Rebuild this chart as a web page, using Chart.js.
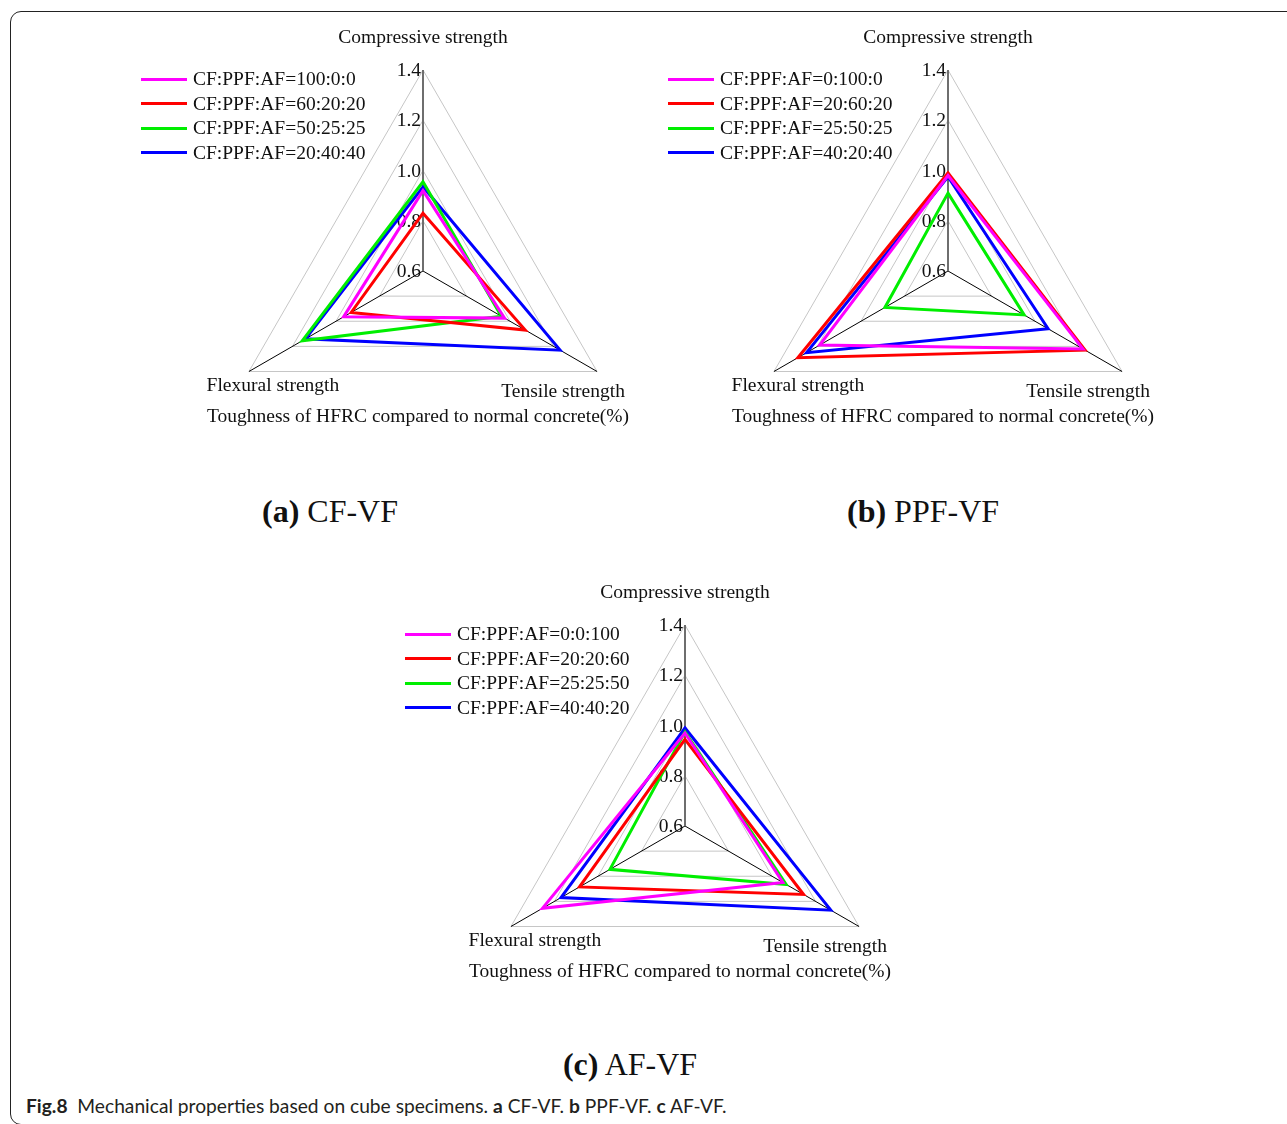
<!DOCTYPE html>
<html>
<head>
<meta charset="utf-8">
<script src="https://cdn.jsdelivr.net/npm/chart.js@4.4.0/dist/chart.umd.min.js"></script>
<style>
  body { margin: 0; width: 1287px; height: 1124px; background: #fff; position: relative; overflow: hidden;
         font-family: "Liberation Serif", serif; color: #111; }
  .frame { position: absolute; left: 10px; top: 11px; width: 1300px; height: 1112px;
           border: 1.5px solid #222; border-radius: 11px; }
  canvas { position: absolute; }
  .legend { position: absolute; font-size: 19.5px; line-height: 24.5px; }
  .legend div { display: flex; align-items: center; white-space: nowrap; height: 24.5px; }
  .legend .ln { display: inline-block; width: 46px; height: 3px; margin-right: 6px; }
  .cap { position: absolute; font-size: 32px; line-height: 32px; white-space: nowrap; transform: translateX(-50%); }
  .fig { position: absolute; left: 26px; top: 1096px; font-family: Lato, sans-serif; font-size: 19.2px;
         line-height: 20px; color: #231f20; white-space: nowrap; }
</style>
</head>
<body>
<div class="frame"></div>

<canvas id="chartA" width="520" height="480" style="left:163px; top:11px;"></canvas>
<canvas id="chartB" width="520" height="480" style="left:688px; top:11px;"></canvas>
<canvas id="chartC" width="520" height="480" style="left:425px; top:566px;"></canvas>

<div class="legend" id="legendA" style="left:141px; top:67px;"></div>
<div class="legend" id="legendB" style="left:668px; top:67px;"></div>
<div class="legend" id="legendC" style="left:405px; top:622px;"></div>

<div class="cap" style="left:330px; top:495px;"><b>(a)</b> CF-VF</div>
<div class="cap" style="left:923px; top:495px;"><b>(b)</b> PPF-VF</div>
<div class="cap" style="left:630px; top:1048px;"><b>(c)</b> AF-VF</div>

<div class="fig"><b>Fig.8</b>&nbsp; Mechanical properties based on cube specimens. <b>a</b> CF-VF. <b>b</b> PPF-VF. <b>c</b> AF-VF.</div>

<script>
// 坐标轴与数据
const axisLabels = ['Compressive strength', 'Tensile strength', 'Flexural strength'];
const axisTitle = 'Toughness of HFRC compared to normal concrete(%)';
const tickValues = [0.6, 0.8, 1.0, 1.2, 1.4];
const seriesColors = ['#ff00ff', '#ff0000', '#00ee00', '#0000ff'];

// (a) CF-VF
const namesA = ['CF:PPF:AF=100:0:0', 'CF:PPF:AF=60:20:20', 'CF:PPF:AF=50:25:25', 'CF:PPF:AF=20:40:40'];
const valuesA = [
    [0.92, 0.975, 0.965],
    [0.83, 1.07, 0.93],
    [0.955, 0.96, 1.155],
    [0.935, 1.23, 1.14]
];

// (b) PPF-VF
const namesB = ['CF:PPF:AF=0:100:0', 'CF:PPF:AF=20:60:20', 'CF:PPF:AF=25:50:25', 'CF:PPF:AF=40:20:40'];
const valuesB = [
    [0.98, 1.22, 1.19],
    [0.99, 1.23, 1.29],
    [0.91, 0.95, 0.89],
    [0.975, 1.06, 1.25]
];

// (c) AF-VF
const namesC = ['CF:PPF:AF=0:0:100', 'CF:PPF:AF=20:20:60', 'CF:PPF:AF=25:25:50', 'CF:PPF:AF=40:40:20'];
const valuesC = [
    [0.97, 1.05, 1.255],
    [0.945, 1.145, 1.085],
    [0.975, 1.065, 0.945],
    [0.99, 1.27, 1.17]
];

const serifFont = '19.5px "Liberation Serif", serif';

// 刻度、轴名称自己画
const radarText = {
    id: 'radarText',
    beforeDatasetsDraw(chart) {
        const r = chart.scales.r;
        const ctx = chart.ctx;
        ctx.save();
        ctx.font = serifFont;
        ctx.fillStyle = '#111';
        ctx.textAlign = 'right';
        ctx.textBaseline = 'middle';
        tickValues.forEach(v => {
            const d = r.getDistanceFromCenterForValue(v);
            ctx.fillText(v.toFixed(1), r.xCenter - 2, r.yCenter - d + 1);
        });
        ctx.restore();
    },
    afterDraw(chart) {
        const r = chart.scales.r;
        const ctx = chart.ctx;
        const outer = r.getDistanceFromCenterForValue(r.max);
        const offs = [[0, -32], [-34, 20], [24, 14]];
        ctx.save();
        ctx.font = serifFont;
        ctx.fillStyle = '#111';
        ctx.textAlign = 'center';
        ctx.textBaseline = 'middle';
        chart.data.labels.forEach((lab, i) => {
            const p = r.getPointPosition(i, outer);
            ctx.fillText(lab, p.x + offs[i][0], p.y + offs[i][1]);
        });
        ctx.fillText(axisTitle, r.xCenter - 5, r.yCenter + 146);
        ctx.restore();
    }
};

function makeRadar(id, names, values) {
    const datasets = values.map((data, i) => ({
        label: names[i],
        data: data,
        borderColor: seriesColors[i],
        borderWidth: 3,
        pointRadius: 0,
        pointHoverRadius: 0,
        fill: false,
        tension: 0
    }));

    return new Chart(document.getElementById(id), {
        type: 'radar',
        data: { labels: axisLabels, datasets: datasets },
        options: {
            responsive: false,
            animation: false,
            layout: { padding: { left: 59, right: 59, top: 59, bottom: 19 } },
            scales: {
                r: {
                    min: 0.6,
                    max: 1.4,
                    ticks: { display: false, stepSize: 0.2 },
                    grid: { color: '#c6c6c6', lineWidth: 1 },
                    angleLines: {
                        color: c => c.index === 0 ? '#6e6e6e' : '#000',
                        lineWidth: c => c.index === 0 ? 2 : 1
                    },
                    pointLabels: { display: false }
                }
            },
            plugins: {
                legend: { display: false },
                tooltip: { enabled: false }
            }
        },
        plugins: [radarText]
    });
}

function makeLegend(id, names) {
    const box = document.getElementById(id);
    names.forEach((n, i) => {
        const row = document.createElement('div');
        const ln = document.createElement('span');
        ln.className = 'ln';
        ln.style.background = seriesColors[i];
        row.appendChild(ln);
        row.appendChild(document.createTextNode(n));
        box.appendChild(row);
    });
}

makeRadar('chartA', namesA, valuesA);
makeRadar('chartB', namesB, valuesB);
makeRadar('chartC', namesC, valuesC);
makeLegend('legendA', namesA);
makeLegend('legendB', namesB);
makeLegend('legendC', namesC);
</script>
</body>
</html>
